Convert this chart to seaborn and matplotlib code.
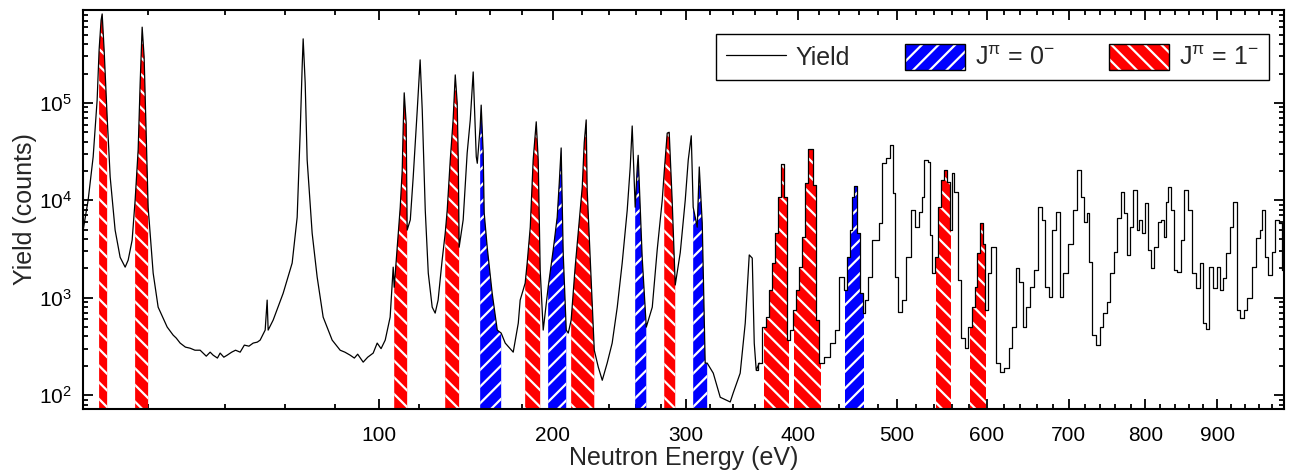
import numpy as np
import matplotlib
matplotlib.use("Agg")
import matplotlib.pyplot as plt
import seaborn as sns
import pandas as pd
from matplotlib.patches import Patch
from matplotlib.lines import Line2D
from matplotlib.ticker import FixedLocator, NullFormatter, LogLocator

# ---------------- data ----------------
# fine-binned low-energy part (eV, counts)
energy_fine = [8.62, 9.33, 10.08, 10.69, 11.00, 11.32, 11.49, 11.81, 12.31, 12.82,
               13.68, 14.58, 15.51, 16.08, 16.85, 17.44, 18.05, 18.46, 18.87, 19.28,
               19.71, 20.13, 21.22, 22.33, 24.41, 25.84, 26.6, 27.57, 28.9, 30.13,
               31.4, 32.81, 34.5, 35.6, 36.46, 37.7, 38.5, 39.6, 40.61, 42.0,
               43.2, 44.66, 46.0, 47.5, 48.90, 50.3, 51.26, 52.99, 53.68, 54.03,
               55.80, 59.42, 62.78, 64.69, 65.84, 66.62, 67.01, 67.80, 68.58, 70.57,
               72.59, 75.05, 78.82, 82.25, 84.3, 86.63, 88.5, 90.0, 92.51, 94.6,
               97.16, 99.05, 100.9, 102.9, 105.3, 106.8]
yield_fine = [4950, 10000, 28000, 107000, 350000, 710000, 820000, 350000, 72000, 17400,
              4950, 2600, 2060, 2430, 3900, 10000, 33000, 161000, 600000, 297000,
              49000, 8500, 1790, 800, 500, 413, 385, 342, 311, 303,
              289, 289, 251, 276, 257, 240, 270, 245, 257, 276,
              289, 276, 326, 318, 342, 350, 367, 465, 945, 465,
              589, 1110, 2270, 6700, 49000, 234000, 455000, 161000, 26000, 4600,
              1630, 632, 367, 289, 276, 257, 240, 263, 218, 245,
              270, 342, 300, 367, 632, 2060]

# coarse-binned part above ~107 eV (eV, counts)
energy_hist = [107.3, 108.8, 110.3, 111.3, 111.8, 112.3, 113.3, 113.8, 115.4, 116.9,
               119.0, 120.5, 121.6, 123.2, 124.8, 126.9, 128.5, 130.1, 132.3, 134.0,
               135.1, 136.8, 138.4, 139.6, 140.7, 141.3, 141.8, 144.1, 146.4, 148.2,
               149.9, 151.7, 152.3, 154.0, 154.6, 155.8, 156.4, 158.2, 161.2, 164.3,
               166.7, 169.2, 174.2, 177.4, 178.6, 181.8, 183.1, 185.1, 187.0, 189.0,
               190.3, 191.6, 193.6, 196.9, 200.3, 203.0, 204.4, 205.7, 207.1, 209.2,
               210.6, 212.6, 215.4, 217.5, 220.4, 221.8, 223.2, 223.9, 226.1, 229.0,
               231.9, 234.8, 238.4, 242.1, 245.9, 249.6, 253.4, 255.7, 257.2, 259.5,
               261.1, 261.8, 264.9, 268.1, 272.8, 276.7, 280.7, 282.3, 284.7, 286.3,
               288.7, 291.2, 295.3, 299.4, 301.9, 304.4, 306.0, 309.4, 311.1, 313.6,
               316.1, 317.8, 323.0, 329.0, 337.7, 340.3, 346.5, 351.0, 354.6, 357.3,
               359.1, 360.9, 363.6, 368.2, 370.9, 373.7, 376.5, 379.3, 382.1, 384.9,
               387.7, 391.4, 393.3, 396.2, 399.0, 401.9, 404.8, 407.7, 410.6, 412.5,
               415.4, 418.3, 422.3, 427.2, 434.1, 437.1, 443.1, 446.1, 449.2, 452.2,
               454.2, 456.3, 459.3, 462.4, 465.5, 467.6, 471.7, 474.8, 479.0, 482.1,
               486.3, 489.5, 494.8, 496.9, 499.0, 503.3, 506.5, 511.9, 517.3, 521.7,
               526.0, 527.1, 531.5, 534.8, 537.0, 539.3, 542.6, 545.9, 549.3, 552.6,
               556.0, 559.4, 560.5, 565.1, 568.4, 573.0, 576.4, 581.1, 584.5, 588.0,
               590.3, 593.8, 597.3, 599.6, 603.5, 607.8, 613.7, 617.3, 624.4, 628.0,
               632.8, 636.4, 641.2, 644.8, 649.7, 653.3, 659.5, 664.4, 668.1, 673.0,
               676.7, 681.7, 686.7, 690.5, 695.5, 701.8, 708.2, 713.2, 717.1, 722.2,
               723.5, 727.3, 732.5, 737.7, 741.5, 746.8, 750.7, 755.9, 759.8, 765.1,
               769.1, 774.4, 777.0, 781.0, 786.4, 790.4, 793.1, 797.1, 802.5, 805.3,
               809.3, 814.8, 818.8, 824.3, 827.0, 829.8, 832.6, 836.7, 840.8, 846.4,
               850.5, 856.2, 861.7, 867.4, 873.0, 877.2, 881.4, 885.7, 890.0, 897.1,
               902.8, 905.7, 910.1, 915.8, 920.2, 925.9, 930.3, 936.1, 940.5, 946.4,
               953.8, 959.6, 964.1, 967.0, 971.5, 977.4, 981.9, 988.0, 992.4, 997.0]
yield_hist = [1280, 3300, 8500, 20500, 57000, 127000, 62000, 4950, 6300, 17400,
              85000, 277000, 85000, 7900, 1790, 800, 695, 945, 2430, 4600,
              7900, 26000, 67000, 194000, 100000, 26000, 3300, 6300, 30600, 67000,
              208000, 28000, 24000, 57000, 95000, 30600, 7400, 3300, 1110, 465,
              433, 342, 276, 548, 945, 1410, 2270, 5300, 26000, 64000,
              26000, 1920, 465, 1280, 3100, 6700, 15000, 34500, 2900, 465,
              433, 589, 2060, 4600, 13700, 39000, 67000, 12800, 2430, 289,
              194, 142, 213, 342, 800, 2270, 7900, 22000, 58000, 8500,
              22000, 29000, 2600, 499, 800, 3100, 10000, 19500, 49000, 50000,
              10000, 1350, 2900, 10000, 26000, 46000, 8500, 5300, 22000, 5850,
              213, 213, 168, 95, 85, 105, 168, 548, 2750, 2550,
              342, 180, 213, 499, 632, 1200, 2270, 4600, 10700, 23600,
              10700, 367, 465, 746, 1200, 2060, 4200, 15000, 34000, 34000,
              14200, 589, 213, 245, 342, 465, 1630, 1200, 2600, 4950,
              10800, 14000, 4600, 1110, 695, 945, 1630, 3900, 3900, 5850,
              24000, 27000, 37000, 11900, 1630, 711, 945, 2600, 7900, 5300,
              7600, 10800, 26000, 25000, 4400, 1790, 2600, 8500, 16000, 20500,
              15500, 4950, 19000, 12200, 1520, 385, 303, 499, 800, 1280,
              2900, 5850, 3600, 746, 1790, 3300, 213, 172, 189, 303,
              499, 2000, 1450, 499, 800, 1280, 1920, 8500, 6300, 1280,
              1010, 4950, 7600, 1010, 1790, 3600, 7900, 20500, 10800, 6000,
              7400, 2300, 413, 326, 499, 695, 900, 1790, 2950, 6600,
              12200, 7400, 2750, 5300, 12800, 4950, 6300, 4600, 9400, 3100,
              2000, 3300, 6000, 6300, 4200, 9600, 13700, 7900, 1920, 1830,
              3900, 12800, 7900, 1790, 1260, 2270, 548, 480, 2060, 1260,
              2060, 1200, 1590, 2900, 5300, 9600, 746, 617, 746, 990,
              2060, 4100, 4950, 7900, 2600, 1710, 2950, 6300, 5850, 1920]

# resonance groups (eV ranges)
res_1minus = [(11.0, 12.31), (17.44, 20.13), (107.3, 113.8), (134.0, 141.8),
              (181.8, 191.6), (211.9, 229.0), (282.3, 291.2), (368.2, 391.4),
              (396.2, 422.3), (542.6, 559.4), (581.1, 599.6)]
res_0minus = [(153.4, 166.7), (196.3, 209.2), (258.8, 268.1), (306.0, 317.8),
              (446.1, 465.5)]

x_major = [100, 200, 300, 400, 500, 600, 700, 800, 900]
x_minor = [v for v in range(20, 1000, 20) if v % 100 != 0]

# ---------------- style ----------------
sns.set_style("ticks")
plt.rcParams["font.family"] = ["Liberation Sans", "DejaVu Sans"]
plt.rcParams["mathtext.fontset"] = "custom"
plt.rcParams["mathtext.rm"] = "Liberation Sans"
plt.rcParams["mathtext.it"] = "Liberation Sans:italic"
plt.rcParams["hatch.linewidth"] = 1.6

RED = "#ff0000"
BLUE = "#0000ff"
STEP_FROM = 360.0   # above this the histogram bins are wide enough to show steps

fig = plt.figure(figsize=(12.95, 4.72), dpi=100)
ax = fig.add_axes([0.0641, 0.1335, 0.9274, 0.8453])
ax.set_xscale("function", functions=(np.sqrt, np.square))
ax.set_yscale("log")
ax.set_xlim(8.6, 998)
ax.set_ylim(72, 9.0e5)

ef = np.array(energy_fine); yf = np.array(yield_fine)
eh = np.array(energy_hist); yh = np.array(yield_hist)
m_low = eh <= STEP_FROM + 4
m_high = eh >= STEP_FROM
segments = [(np.concatenate([ef, eh[m_low]]), np.concatenate([yf, yh[m_low]]), None),
            (eh[m_high], yh[m_high], "mid")]

def shade(lo, hi, color, hatch):
    for e, y, st in segments:
        m = (e >= lo - 1e-6) & (e <= hi + 1e-6)
        if m.sum() >= 2:
            ax.fill_between(e, y, 1, where=m, step=st, facecolor=color,
                            edgecolor="white", hatch=hatch, linewidth=0, zorder=1)

for lo, hi in res_1minus:
    shade(lo, hi, RED, "\\\\")
for lo, hi in res_0minus:
    shade(lo, hi, BLUE, "//")

for e, y, st in segments:
    df = pd.DataFrame({"E": e, "Y": y})
    kw = {"drawstyle": "steps-mid"} if st else {}
    sns.lineplot(data=df, x="E", y="Y", ax=ax, color="black", lw=0.9,
                 estimator=None, sort=False, zorder=3, **kw)

ax.xaxis.set_major_locator(FixedLocator(x_major))
ax.xaxis.set_minor_locator(FixedLocator(x_minor))
ax.xaxis.set_minor_formatter(NullFormatter())
ax.set_xticklabels([str(v) for v in x_major])
ax.yaxis.set_major_locator(LogLocator(base=10, numticks=10))
ax.yaxis.set_minor_locator(LogLocator(base=10, subs=np.arange(2, 10), numticks=20))
ax.yaxis.set_minor_formatter(NullFormatter())

ax.tick_params(which="both", direction="in", top=True, right=True, labelsize=15,
               width=1.3, colors="black")
ax.tick_params(which="major", length=7)
ax.tick_params(which="minor", length=3.5)
ax.tick_params(axis="x", which="major", pad=12)
ax.tick_params(axis="y", which="major", pad=8)
for s in ax.spines.values():
    s.set_linewidth(1.5)
    s.set_color("black")

ax.set_xlabel("Neutron Energy (eV)", fontsize=18, labelpad=1)
ax.set_ylabel("Yield (counts)", fontsize=18, labelpad=1)

h_line = Line2D([], [], color="black", lw=0.9)
h_blue = (Patch(facecolor=BLUE, edgecolor="white", hatch="//", lw=0),
          Patch(facecolor="none", edgecolor="black", lw=1.0))
h_red = (Patch(facecolor=RED, edgecolor="white", hatch="\\\\", lw=0),
         Patch(facecolor="none", edgecolor="black", lw=1.0))
leg = ax.legend([h_line, h_blue, h_red],
                ["Yield", r"J$^{\mathregular{\pi}}$ = 0$^{\mathregular{-}}$",
                 r"J$^{\mathregular{\pi}}$ = 1$^{\mathregular{-}}$"],
                ncol=3, loc="upper right", bbox_to_anchor=(0.9875, 0.94),
                fontsize=18, frameon=True, fancybox=False, edgecolor="black",
                framealpha=1, handlelength=2.4, handleheight=1.2,
                handletextpad=0.4, columnspacing=2.2, borderpad=0.4,
                borderaxespad=0)
leg.get_frame().set_linewidth(1.0)

fig.savefig("out.png", dpi=100)
